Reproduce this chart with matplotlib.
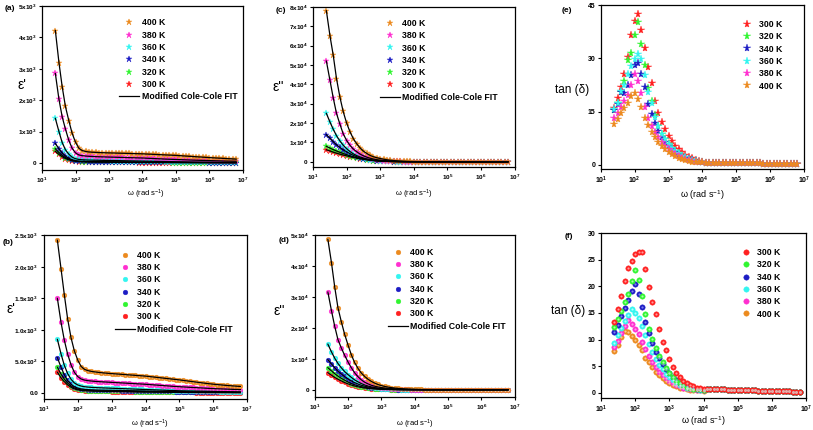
import matplotlib
matplotlib.use("Agg")
import matplotlib.pyplot as plt

plt.rcParams['font.family'] = ['Liberation Sans', 'DejaVu Sans']
plt.rcParams['font.weight'] = 'bold'
plt.rcParams['mathtext.default'] = 'regular'

# angular frequency (rad/s), same grid for every curve
omega = [25, 32, 40, 50, 63, 79, 100, 126, 158, 200, 251, 316, 398, 501, 631, 794,
         1.0e3, 1.26e3, 1.58e3, 2.0e3, 2.51e3, 3.16e3, 3.98e3, 5.01e3, 6.31e3, 7.94e3,
         1.0e4, 1.26e4, 1.58e4, 2.0e4, 2.51e4, 3.16e4, 3.98e4, 5.01e4, 6.31e4, 7.94e4,
         1.0e5, 1.26e5, 1.58e5, 2.0e5, 2.51e5, 3.16e5, 3.98e5, 5.01e5, 6.31e5, 7.94e5,
         1.0e6, 1.26e6, 1.58e6, 2.0e6, 2.51e6, 3.16e6, 3.98e6, 5.01e6, 6.31e6]

temps = ['400 K', '380 K', '360 K', '340 K', '320 K', '300 K']
colors = ['#EC8A1E', '#FF2FD0', '#33F5F0', '#1C1CC4', '#30F530', '#FF2020']
light = ['#F8C890', '#FF9AE8', '#B0FFFC', '#7F7FF0', '#A8FFA8', '#FF9A9A']

# (a) real permittivity, star sample
a_400 = [4220, 3200, 2430, 1800, 1350, 950, 660, 470, 395, 365, 350, 342, 336, 331, 327, 323,
         320, 317, 314, 311, 308, 305, 302, 299, 296, 293,
         290, 285, 280, 275, 270, 265, 260, 255, 250, 245,
         240, 233, 226, 219, 212, 205, 198, 191, 184, 177,
         170, 164, 158, 152, 146, 140, 134, 128, 122]
a_380 = [2850, 2030, 1470, 1080, 720, 470, 320, 255, 232, 220, 212, 206, 201, 197, 193, 190,
         187, 184, 181, 178, 175, 172, 169, 166, 163, 160,
         157, 152, 147, 142, 137, 132, 127, 122, 118, 114,
         110, 106, 102, 98, 94, 90, 87, 84, 81, 78,
         75, 72, 69, 66, 63, 60, 58, 56, 54]
a_360 = [1420, 1000, 650, 420, 280, 185, 135, 112, 102, 96, 92, 89, 87, 85, 83, 81,
         79, 77, 75, 73, 71, 69, 67, 65, 63, 61,
         59, 57, 55, 53, 51, 49, 47, 45, 43, 41,
         39, 37, 35, 33, 31, 29, 28, 27, 26, 25,
         24, 23, 22, 21, 20, 19, 18, 17, 16]
a_340 = [620, 450, 320, 220, 150, 100, 72, 58, 52, 48, 46, 44, 43, 42, 41, 40,
         39, 38, 37, 36, 35, 34, 33, 32, 31, 30,
         29, 28, 27, 26, 25, 24, 23, 22, 21, 20,
         19, 19, 18, 18, 17, 17, 16, 16, 15, 15,
         14, 14, 13, 13, 12, 12, 11, 11, 10]
a_320 = [450, 330, 240, 170, 120, 82, 60, 48, 42, 38, 36, 34, 33, 32, 31, 30,
         29, 28, 27, 26, 25, 24, 23, 22, 21, 20,
         19, 18, 18, 17, 17, 16, 16, 15, 15, 14,
         14, 13, 13, 12, 12, 11, 11, 10, 10, 10,
         9, 9, 9, 8, 8, 8, 7, 7, 7]
a_300 = [370, 270, 200, 140, 100, 70, 52, 42, 36, 32, 30, 28, 27, 26, 25, 24,
         23, 22, 21, 20, 19, 18, 17, 16, 15, 14,
         14, 13, 13, 12, 12, 11, 11, 10, 10, 9,
         9, 9, 8, 8, 8, 7, 7, 7, 6, 6,
         6, 6, 5, 5, 5, 5, 4, 4, 4]

# (b) real permittivity, ball sample
b_400 = [2420, 1970, 1560, 1180, 880, 670, 520, 420, 375, 355, 343, 335, 328, 322, 317, 312,
         308, 304, 300, 296, 292, 288, 284, 280, 276, 272,
         268, 262, 256, 250, 244, 238, 232, 226, 220, 214,
         208, 201, 194, 187, 180, 173, 166, 159, 152, 146,
         140, 135, 130, 125, 120, 116, 112, 108, 105]
b_380 = [1500, 1120, 840, 620, 450, 330, 260, 222, 205, 196, 190, 185, 181, 178, 175, 172,
         169, 166, 163, 160, 157, 154, 151, 148, 145, 142,
         139, 135, 131, 127, 123, 119, 115, 111, 107, 103,
         100, 97, 94, 91, 88, 85, 82, 79, 76, 73,
         70, 68, 66, 64, 62, 60, 58, 56, 54]
b_360 = [850, 620, 440, 310, 220, 160, 128, 110, 100, 94, 90, 87, 84, 82, 80, 78,
         76, 74, 72, 70, 68, 66, 64, 62, 60, 58,
         56, 54, 52, 50, 48, 46, 44, 42, 40, 38,
         36, 35, 34, 33, 32, 31, 30, 29, 28, 27,
         26, 25, 24, 23, 22, 21, 20, 19, 18]
b_340 = [560, 410, 290, 200, 140, 100, 78, 65, 58, 54, 51, 49, 47, 46, 45, 44,
         43, 42, 41, 40, 39, 38, 37, 36, 35, 34,
         33, 32, 31, 30, 29, 28, 27, 26, 25, 24,
         23, 22, 21, 20, 19, 19, 18, 18, 17, 17,
         16, 16, 15, 15, 14, 14, 13, 13, 12]
b_320 = [410, 300, 220, 160, 112, 80, 60, 50, 44, 40, 38, 36, 35, 34, 33, 32,
         31, 30, 29, 28, 27, 26, 25, 24, 23, 22,
         21, 20, 20, 19, 19, 18, 18, 17, 17, 16,
         16, 15, 15, 14, 14, 13, 13, 12, 12, 12,
         11, 11, 11, 10, 10, 10, 9, 9, 9]
b_300 = [330, 240, 180, 130, 92, 66, 50, 41, 36, 33, 31, 29, 28, 27, 26, 25,
         24, 23, 22, 21, 20, 19, 18, 17, 16, 15,
         15, 14, 14, 13, 13, 12, 12, 11, 11, 10,
         10, 10, 9, 9, 9, 8, 8, 8, 7, 7,
         7, 7, 6, 6, 6, 6, 5, 5, 5]

# (c) imaginary permittivity, star sample
c_400 = [78000, 65000, 55000, 43000, 33500, 26000, 20000, 15500, 12000, 9300, 7200, 5500, 4300, 3300, 2600, 2100,
         1700, 1350, 1050, 820, 640, 500, 390, 300, 235, 180,
         140, 110, 85, 66, 51, 40, 31, 24, 19, 15,
         12, 9, 7, 6, 5, 4, 3, 2, 2, 2,
         1, 1, 1, 1, 1, 1, 1, 1, 1]
c_380 = [52000, 42000, 33000, 25000, 19500, 14500, 11000, 8500, 6600, 5200, 4000, 3100, 2400, 1850, 1420, 1100,
         850, 650, 500, 385, 295, 225, 170, 130, 100, 77,
         59, 45, 35, 27, 21, 16, 12, 9, 7, 5,
         4, 3, 3, 2, 2, 2, 1, 1, 1, 1,
         1, 1, 1, 1, 1, 1, 1, 1, 1]
c_360 = [25000, 20500, 16800, 13500, 10800, 8600, 6800, 5300, 4100, 3200, 2500, 1950, 1500, 1150, 880, 680,
         520, 400, 305, 235, 180, 138, 105, 80, 61, 47,
         36, 27, 21, 16, 12, 9, 7, 5, 4, 3,
         3, 2, 2, 2, 1, 1, 1, 1, 1, 1,
         1, 1, 1, 1, 1, 1, 1, 1, 1]
c_340 = [14000, 12200, 10400, 8800, 7400, 6200, 5200, 4200, 3350, 2650, 2050, 1600, 1230, 940, 720, 550,
         420, 320, 245, 186, 141, 107, 81, 61, 46, 35,
         26, 20, 15, 11, 8, 6, 5, 4, 3, 2,
         2, 2, 1, 1, 1, 1, 1, 1, 1, 1,
         1, 1, 1, 1, 1, 1, 1, 1, 1]
c_320 = [8000, 7100, 6300, 5600, 4900, 4300, 3700, 3100, 2600, 2150, 1750, 1400, 1100, 860, 670, 520,
         400, 305, 232, 176, 133, 100, 75, 56, 42, 31,
         23, 17, 13, 10, 7, 5, 4, 3, 2, 2,
         2, 1, 1, 1, 1, 1, 1, 1, 1, 1,
         1, 1, 1, 1, 1, 1, 1, 1, 1]
c_300 = [6200, 5600, 5000, 4450, 3950, 3500, 3100, 2650, 2250, 1880, 1550, 1260, 1010, 800, 630, 490,
         380, 292, 223, 170, 129, 97, 73, 55, 41, 30,
         22, 16, 12, 9, 7, 5, 4, 3, 2, 2,
         1, 1, 1, 1, 1, 1, 1, 1, 1, 1,
         1, 1, 1, 1, 1, 1, 1, 1, 1]

# (d) imaginary permittivity, ball sample
d_400 = [48500, 41000, 33200, 26500, 22000, 18000, 14500, 11300, 8800, 6900, 5400, 4300, 3400, 2700, 2150, 1700,
         1350, 1080, 860, 690, 550, 440, 350, 280, 225, 180,
         145, 115, 92, 74, 59, 47, 38, 30, 24, 19,
         15, 12, 10, 8, 6, 5, 4, 3, 3, 2,
         2, 2, 1, 1, 1, 1, 1, 1, 1]
d_380 = [31500, 25500, 20500, 16200, 13500, 11200, 9000, 7100, 5500, 4200, 3200, 2450, 1900, 1450, 1150, 900,
         710, 560, 440, 350, 275, 215, 170, 135, 105, 83,
         65, 52, 41, 32, 25, 20, 16, 13, 10, 8,
         6, 5, 4, 3, 3, 2, 2, 2, 1, 1,
         1, 1, 1, 1, 1, 1, 1, 1, 1]
d_360 = [14700, 12200, 10200, 8500, 7100, 5900, 4900, 4000, 3200, 2550, 2000, 1550, 1200, 920, 700, 530,
         400, 300, 225, 170, 128, 96, 72, 54, 40, 30,
         23, 17, 13, 10, 7, 5, 4, 3, 2, 2,
         2, 1, 1, 1, 1, 1, 1, 1, 1, 1,
         1, 1, 1, 1, 1, 1, 1, 1, 1]
d_340 = [9700, 8300, 7100, 6000, 5100, 4300, 3500, 2850, 2300, 1850, 1450, 1150, 900, 700, 540, 410,
         310, 235, 178, 134, 100, 75, 56, 42, 31, 23,
         17, 13, 10, 7, 5, 4, 3, 2, 2, 2,
         1, 1, 1, 1, 1, 1, 1, 1, 1, 1,
         1, 1, 1, 1, 1, 1, 1, 1, 1]
d_320 = [7100, 6100, 5200, 4400, 3700, 3100, 2500, 2000, 1600, 1270, 1000, 780, 600, 460, 350, 265,
         200, 150, 112, 84, 63, 47, 35, 26, 19, 14,
         11, 8, 6, 5, 4, 3, 2, 2, 1, 1,
         1, 1, 1, 1, 1, 1, 1, 1, 1, 1,
         1, 1, 1, 1, 1, 1, 1, 1, 1]
d_300 = [5500, 4700, 4000, 3400, 2850, 2350, 1900, 1520, 1200, 940, 730, 570, 440, 340, 260, 200,
         150, 113, 85, 64, 48, 36, 27, 20, 15, 11,
         8, 6, 5, 4, 3, 2, 2, 1, 1, 1,
         1, 1, 1, 1, 1, 1, 1, 1, 1, 1,
         1, 1, 1, 1, 1, 1, 1, 1, 1]

# (e) loss tangent, star sample (first 27 points, then a common flat tail)
tail_e = [0.6, 0.58, 0.56, 0.54, 0.52, 0.5, 0.48, 0.46, 0.44, 0.42,
          0.41, 0.4, 0.39, 0.38, 0.37, 0.36, 0.35, 0.34, 0.33, 0.32,
          0.31, 0.3, 0.29, 0.28, 0.27, 0.26, 0.25, 0.24]
e_300 = [16, 18.8, 22, 25.5, 30.5, 36.5, 40.5, 42.5, 38, 33, 27.5, 23, 18, 14.5, 12, 10,
         8, 6.8, 5.3, 4.3, 3.5, 2.8, 2.2, 1.8, 1.4, 1.1, 0.9] + tail_e
e_320 = [15.5, 17.5, 20.5, 23.5, 29.5, 31.5, 36.7, 40.3, 34, 28, 21.5, 18, 14, 11, 8.8, 7.2,
         5.8, 4.8, 3.9, 3.1, 2.5, 2.0, 1.6, 1.3, 1.0, 0.85, 0.75] + tail_e
e_340 = [15.5, 17, 20.5, 20.3, 22.5, 25.3, 28.2, 28.8, 25.5, 21.8, 17, 14.3, 11.7, 9.5, 7.8, 6.3,
         5.2, 4.3, 3.5, 2.8, 2.3, 1.8, 1.5, 1.2, 1.0, 0.85, 0.75] + tail_e
e_360 = [15.8, 17.5, 20.7, 22.5, 25.7, 27.8, 29.8, 31.2, 29.8, 25.3, 20.5, 17.5, 13.5, 11, 8.8, 7.2,
         5.9, 4.8, 3.9, 3.2, 2.6, 2.1, 1.7, 1.4, 1.1, 0.9, 0.8] + tail_e
e_380 = [13.3, 14.7, 16.3, 18, 19.8, 22.5, 25.7, 23.5, 20.3, 16.3, 13.3, 11, 9.3, 7.8, 6.5, 5.3,
         4.4, 3.6, 2.9, 2.4, 1.9, 1.6, 1.3, 1.1, 0.9, 0.8, 0.7] + tail_e
e_400 = [11.5, 12.8, 14.5, 16, 17.5, 19.3, 20.3, 18.5, 16.2, 13.3, 11.2, 9.3, 7.7, 6.5, 5.4, 4.5,
         3.7, 3.0, 2.5, 2.0, 1.6, 1.3, 1.1, 0.9, 0.8, 0.7, 0.65] + tail_e

# (f) loss tangent, ball sample
tail_f = [0.75, 0.72, 0.7, 0.68, 0.66, 0.64, 0.62, 0.6, 0.58, 0.56,
          0.54, 0.52, 0.5, 0.48, 0.46, 0.44, 0.42, 0.4, 0.38, 0.36,
          0.34, 0.32, 0.3, 0.28, 0.26, 0.24, 0.22, 0.2]
f_300 = [13.3, 15.7, 18.2, 21, 23.5, 24.8, 26, 26.4, 26.5, 23.2, 19.9, 17.1, 14.8, 12, 9.6, 8.1,
         6.3, 4.8, 3.7, 2.9, 2.3, 1.8, 1.4, 1.2, 1.0, 0.9, 0.8] + tail_f
f_320 = [12.4, 13.8, 15.3, 17, 18.6, 21, 23, 21.1, 18.2, 14.8, 12, 10.2, 8.4, 7, 5.7, 4.6,
         3.7, 2.9, 2.3, 1.8, 1.4, 1.1, 0.9, 0.8, 0.7, 0.65, 0.6] + tail_f
f_340 = [11.5, 12.8, 14.4, 16, 17.5, 19.2, 20.4, 18.6, 16.2, 13.3, 11.2, 9.3, 7.7, 6.5, 5.4, 4.5,
         3.7, 3.0, 2.4, 1.9, 1.5, 1.2, 1.0, 0.85, 0.75, 0.65, 0.6] + tail_f
f_360 = [9.4, 10.8, 12.2, 13.5, 14.7, 15.8, 15, 14.1, 12.6, 10.9, 9.2, 7.7, 6.4, 5.3, 4.4, 3.6,
         2.9, 2.4, 1.9, 1.5, 1.2, 1.0, 0.85, 0.75, 0.65, 0.6, 0.55] + tail_f
f_380 = [8.6, 9.8, 11.2, 12.6, 13.6, 12.9, 11.9, 11, 9.5, 8.2, 6.9, 5.8, 4.8, 4, 3.3, 2.7,
         2.2, 1.8, 1.5, 1.2, 1.0, 0.85, 0.75, 0.65, 0.6, 0.55, 0.5] + tail_f
f_400 = [7.8, 9, 10.5, 11.7, 11.5, 10.6, 10, 9, 8, 6.6, 5.7, 4.8, 4, 3.3, 2.7, 2.2,
         1.8, 1.5, 1.2, 1.0, 0.85, 0.7, 0.6, 0.55, 0.5, 0.45, 0.4] + tail_f

xticks = [1e1, 1e2, 1e3, 1e4, 1e5, 1e6, 1e7]
xticklabels = ['10$^{%d}$' % k for k in range(1, 8)]
xlab = '\u03c9 (rad s$^{-1}$)'

fig = plt.figure(figsize=(8.13, 4.30), dpi=100)

def make_ax(rect):
    ax = fig.add_axes(rect)
    ax.set_xscale('log')
    ax.set_xlim(10, 1e7)
    ax.set_xticks(xticks, xticklabels)
    ax.minorticks_off()
    ax.tick_params(direction='out', length=2.5, width=0.8, labelsize=4.6, pad=1.5)
    for s in ax.spines.values():
        s.set_linewidth(0.9)
    return ax

def dots(ax, vals, marker, ms, c, lc):
    if marker == 'o':
        # ball look: coloured disc with a lighter core
        h, = ax.plot(omega, vals, 'o', ms=ms, color=c, mec=c, mew=0.3, ls='none', zorder=2)
        ax.plot(omega, vals, 'o', ms=ms * 0.4, color=lc, mew=0, ls='none', zorder=2.1)
    else:
        h, = ax.plot(omega, vals, '*', ms=ms, color=c, mec=c, mew=0.3, ls='none', zorder=2)
    return h

def plot_series(ax, series, marker, ms, fit):
    handles = {}
    # lowest temperature drawn first
    for vals, T, c, lc in list(zip(series, temps, colors, light))[::-1]:
        handles[T] = dots(ax, vals, marker, ms, c, lc)
        if fit:
            fl, = ax.plot(omega, vals, '-', color='black', lw=0.9, zorder=3)
            handles['fit'] = fl
    return handles

def legend(ax, handles, order, anchor, hl, pad, fit):
    hs = [handles[t] for t in order]
    ls = list(order)
    if fit:
        hs.append(handles['fit'])
        ls.append('Modified Cole-Cole FIT')
    ax.legend(hs, ls, loc='upper left', bbox_to_anchor=anchor, frameon=False,
              handlelength=hl, handletextpad=pad, labelspacing=0.38,
              borderpad=0, borderaxespad=0, prop={'weight': 'bold', 'size': 6.3})

def ylab(ax, txt, x, y, size):
    ax.set_ylabel(txt, rotation=0, fontsize=size, ha='center', va='center')
    ax.yaxis.set_label_coords(x, y)

# ---- panel (a)
ax = make_ax([0.0517, 0.605, 0.247, 0.381])
h = plot_series(ax, [a_400, a_380, a_360, a_340, a_320, a_300], '*', 5, True)
ax.set_ylim(-220, 5000)
ax.set_yticks([0, 1000, 2000, 3000, 4000, 5000],
              ['0', '1x10$^{3}$', '2x10$^{3}$', '3x10$^{3}$', '4x10$^{3}$', '5x10$^{3}$'])
ylab(ax, "\u03b5'", -0.10, 0.515, 10)
ax.set_xlabel(xlab, fontsize=5.5)
ax.xaxis.set_label_coords(0.52, -0.11)
legend(ax, h, temps, (0.385, 0.925), 2.3, 0.25, True)

# ---- panel (b)
ax = make_ax([0.054, 0.072, 0.250, 0.381])
h = plot_series(ax, [b_400, b_380, b_360, b_340, b_320, b_300], 'o', 3.4, True)
ax.set_ylim(-95, 2500)
ax.set_yticks([0, 500, 1000, 1500, 2000, 2500],
              ['0.0', '5.0x10$^{2}$', '1.0x10$^{3}$', '1.5x10$^{3}$', '2.0x10$^{3}$', '2.5x10$^{3}$'])
ylab(ax, "\u03b5'", -0.16, 0.55, 10)
ax.set_xlabel(xlab, fontsize=5.5)
ax.xaxis.set_label_coords(0.52, -0.115)
legend(ax, h, temps, (0.35, 0.905), 2.3, 0.25, True)

# ---- panel (c)
ax = make_ax([0.385, 0.612, 0.248, 0.372])
h = plot_series(ax, [c_400, c_380, c_360, c_340, c_320, c_300], '*', 5, True)
ax.set_ylim(-2600, 80000)
ax.set_yticks([k * 10000 for k in range(9)],
              ['0'] + ['%dx10$^{4}$' % k for k in range(1, 9)])
ylab(ax, "\u03b5''", -0.17, 0.50, 10)
ax.set_xlabel(xlab, fontsize=5.5)
ax.xaxis.set_label_coords(0.5, -0.13)
legend(ax, h, temps, (0.33, 0.925), 2.3, 0.25, True)

# ---- panel (d)
ax = make_ax([0.387, 0.077, 0.246, 0.377])
h = plot_series(ax, [d_400, d_380, d_360, d_340, d_320, d_300], 'o', 3.4, True)
ax.set_ylim(-2300, 50000)
ax.set_yticks([k * 10000 for k in range(6)],
              ['0'] + ['%dx10$^{4}$' % k for k in range(1, 6)])
ylab(ax, "\u03b5''", -0.175, 0.53, 10)
ax.set_xlabel(xlab, fontsize=5.5)
ax.xaxis.set_label_coords(0.5, -0.13)
legend(ax, h, temps, (0.365, 0.92), 2.3, 0.25, True)

# ---- panel (e)
tan_order = temps[::-1]
ax = make_ax([0.739, 0.607, 0.250, 0.381])
h = {}
for vals, T, c, lc in zip([e_300, e_320, e_340, e_360, e_380, e_400], tan_order, colors[::-1], light[::-1]):
    h[T] = dots(ax, vals, '*', 5.8, c, lc)
ax.set_ylim(-1.2, 45)
ax.set_yticks([0, 15, 30, 45], ['0', '15', '30', '45'])
ax.tick_params(labelsize=5)
ylab(ax, 'tan (\u03b4)', -0.14, 0.48, 8.5)
ax.set_xlabel(xlab, fontsize=6.5)
ax.xaxis.set_label_coords(0.5, -0.115)
legend(ax, h, tan_order, (0.70, 0.91), 1.0, 0.8, False)

# ---- panel (f)
ax = make_ax([0.739, 0.074, 0.253, 0.384])
h = {}
for vals, T, c, lc in zip([f_400, f_380, f_360, f_340, f_320, f_300], temps, colors, light):
    h[T] = dots(ax, vals, 'o', 3.9, c, lc)
ax.set_ylim(-1.0, 30)
ax.set_yticks([0, 5, 10, 15, 20, 25, 30], ['0', '5', '10', '15', '20', '25', '30'])
ax.tick_params(labelsize=5)
ylab(ax, 'tan (\u03b4)', -0.16, 0.53, 8.5)
ax.set_xlabel(xlab, fontsize=6.5)
ax.xaxis.set_label_coords(0.5, -0.10)
legend(ax, h, tan_order, (0.685, 0.91), 1.0, 0.8, False)

# panel letters
for txt, px, py in [('(a)', 10, 9), ('(c)', 281, 10), ('(e)', 567, 10),
                    ('(b)', 8, 242), ('(d)', 284, 240), ('(f)', 569, 236)]:
    fig.text(px / 813, 1 - py / 430, txt, fontsize=6, ha='center', va='center')

fig.savefig('out.png', dpi=100)
